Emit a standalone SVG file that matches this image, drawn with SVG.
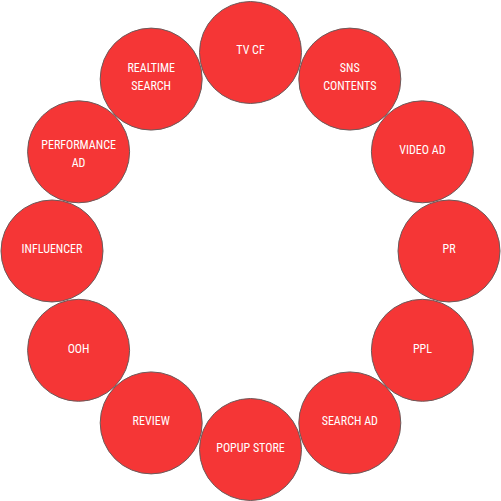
<svg xmlns="http://www.w3.org/2000/svg" width="501" height="501" viewBox="0 0 501 501">
<style>
.c{fill:#f53636;stroke:#6b5b5b;stroke-width:1}
.t{fill:#ffffff;font-family:"Liberation Sans Narrow","Roboto Condensed",Roboto,sans-serif;font-size:12px;text-anchor:middle;dominant-baseline:central}
</style>
<rect width="501" height="501" fill="#ffffff"/>
<g id="connectors"></g>
<g id="tvcf"><circle class="c" cx="250.5" cy="52.5" r="51"/><text class="t" x="250.5" y="50">TV CF</text></g>
<g id="sns"><circle class="c" cx="349.8" cy="79.1" r="51"/><text class="t" x="349.8" y="67.5">SNS</text><text class="t" x="349.8" y="85.5">CONTENTS</text></g>
<g id="videoad"><circle class="c" cx="422.4" cy="151.8" r="51"/><text class="t" x="422.4" y="150">VIDEO AD</text></g>
<g id="pr"><circle class="c" cx="449" cy="251" r="51"/><text class="t" x="449" y="249">PR</text></g>
<g id="ppl"><circle class="c" cx="422.4" cy="350.3" r="51"/><text class="t" x="422.4" y="349">PPL</text></g>
<g id="searchad"><circle class="c" cx="349.8" cy="422.9" r="51"/><text class="t" x="349.8" y="421">SEARCH AD</text></g>
<g id="popup"><circle class="c" cx="250.5" cy="449.5" r="51"/><text class="t" x="250.5" y="448">POPUP STORE</text></g>
<g id="review"><circle class="c" cx="151.2" cy="422.9" r="51"/><text class="t" x="151.2" y="421">REVIEW</text></g>
<g id="ooh"><circle class="c" cx="78.6" cy="350.3" r="51"/><text class="t" x="78.6" y="349">OOH</text></g>
<g id="influencer"><circle class="c" cx="52" cy="251" r="51"/><text class="t" x="52" y="249">INFLUENCER</text></g>
<g id="performance"><circle class="c" cx="78.6" cy="151.8" r="51"/><text class="t" x="78.6" y="144.5">PERFORMANCE</text><text class="t" x="78.6" y="162.5">AD</text></g>
<g id="realtime"><circle class="c" cx="151.2" cy="79.1" r="51"/><text class="t" x="151.2" y="67.5">REALTIME</text><text class="t" x="151.2" y="85.5">SEARCH</text></g>
</svg>
